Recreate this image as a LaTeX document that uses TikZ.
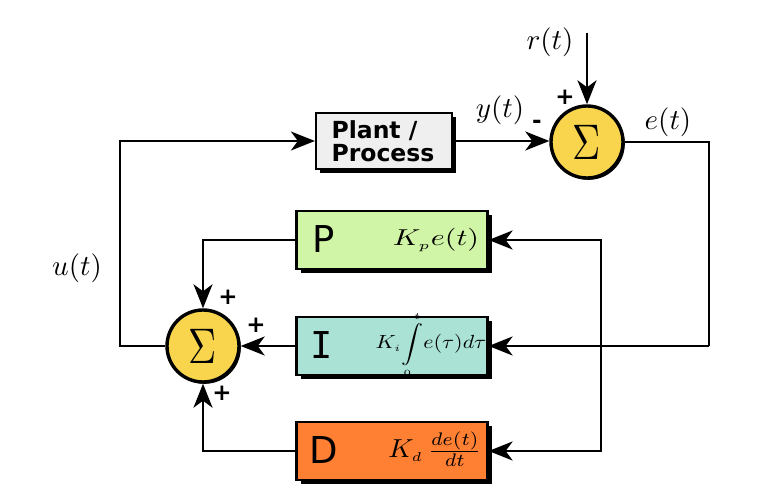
\documentclass[tikz,border=0pt]{standalone}
\usepackage{amsmath}
\usepackage{graphicx}
\usepackage{fontspec}
\newfontfamily\dvs{DejaVu Sans}
\newfontfamily\dvsb{DejaVu Sans Bold}
\newfontfamily\dvm{DejaVu Sans Mono}
\usetikzlibrary{arrows.meta,shadows}
\definecolor{sumyel}{HTML}{F9D54E}
\definecolor{plantgray}{HTML}{EFEFEF}
\definecolor{pgreen}{HTML}{D0F5A6}
\definecolor{iteal}{HTML}{AAE3D6}
\definecolor{dorange}{HTML}{FF7F33}
\newcommand\mylab[1]{\scalebox{2.9}{$#1$}}
\newcommand\mysig{\scalebox{3.9}[5.0]{$\Sigma$}}
\begin{document}
\begin{tikzpicture}[x=1pt,y=-1pt,
  conn/.style={line width=2.2pt,draw=black},
  arr/.style={conn,-{Stealth[length=24pt,width=19pt,inset=7pt]}},
  blk/.style={draw=black,line width=2.2pt,rectangle,inner sep=0pt,
    drop shadow={shadow xshift=4pt,shadow yshift=-4pt,fill=black,opacity=1}},
  sumnode/.style={draw=black,line width=3.4pt,circle,fill=sumyel,minimum size=72pt,inner sep=0pt,
    drop shadow={shadow xshift=1.8pt,shadow yshift=-1.8pt,fill=black,opacity=1}},
  lab/.style={inner sep=0pt},
  sgn/.style={inner sep=0pt,font=\dvsb\fontsize{23}{23}\selectfont},
  big/.style={inner sep=0pt,anchor=center}
]
\useasboundingbox (0,0) rectangle (770,502);
\fill[white] (0,0) rectangle (770,502);

% blocks
\node[blk,fill=plantgray,minimum width=136pt,minimum height=56pt] (plant) at (384,141) {};
\node[inner sep=0pt,align=left,font=\dvsb\fontsize{23.5}{23}\selectfont,anchor=center] (plantlab) at (383,141) {Plant /\\Process};

\node[blk,fill=pgreen,minimum width=191pt,minimum height=58pt] (P) at (392,240) {};
\node[blk,fill=iteal,minimum width=191pt,minimum height=58pt] (I) at (392,346) {};
\node[blk,fill=dorange,minimum width=191pt,minimum height=58pt] (D) at (392,451) {};

\node[big,font=\dvs\fontsize{37}{37}\selectfont] (Pl) at (324,239) {P};
\node[big,font=\dvm\fontsize{37}{37}\selectfont] (Il) at (322,345) {I};
\node[big,font=\dvs\fontsize{37}{37}\selectfont] (Dl) at (324,450) {D};

\node[big] (Pf) at (436,240) {\scalebox{3.0}[2.3]{$K_{\scriptscriptstyle p}e(t)$}};
\node[big] (If) at (431,345) {\scalebox{2.2}[1.9]{$K_{\scriptscriptstyle i}\!\displaystyle\int\limits_{\scriptscriptstyle 0}^{\scriptscriptstyle t}\!e(\tau)d\tau$}};
\node[big] (Df) at (435,449) {\scalebox{2.75}[2.6]{$K_{\scriptscriptstyle d}\,\frac{de(t)}{dt}$}};

% summing junctions
\node[sumnode] (s1) at (587,142) {\mysig};
\node[sumnode] (s2) at (203,346) {\mysig};

% labels
\node[lab] (rl) at (550,42) {\mylab{r(t)}};
\node[lab] (yl) at (500,110) {\mylab{y(t)}};
\node[lab] (el) at (668,122) {\mylab{e(t)}};
\node[lab] (ul) at (77,268) {\mylab{u(t)}};

\node[sgn] (p1) at (565,97) {+};
\node[sgn] (m1) at (537,124) {-};
\node[sgn] (p2) at (228,297) {+};
\node[sgn] (p3) at (256,325) {+};
\node[sgn] (p4) at (222,393) {+};

% coordinates
\coordinate (rin) at (587,33);
\coordinate (ur) at (709,142);
\coordinate (ub) at (709,346);
\coordinate (j) at (601,346);
\coordinate (ul1) at (120,346);
\coordinate (ul2) at (120,141);

% connectors
\draw[arr] (rin) -- (s1.north);
\draw[arr] (plant.east) -- (plant.east -| s1.west);
\draw[conn] (s1.east) -- (ur) -- (ub);
\draw[arr] (ub) -- (I.east);
\draw[arr] (j) |- (P.east);
\draw[arr] (j) |- (D.east);
\draw[arr] (P.west) -| (s2.north);
\draw[arr] (I.west) -- (s2.east);
\draw[arr] (D.west) -| (s2.south);
\draw[arr] (s2.west) -- (ul1) -- (ul2) -- (plant.west);
\end{tikzpicture}
\end{document}
